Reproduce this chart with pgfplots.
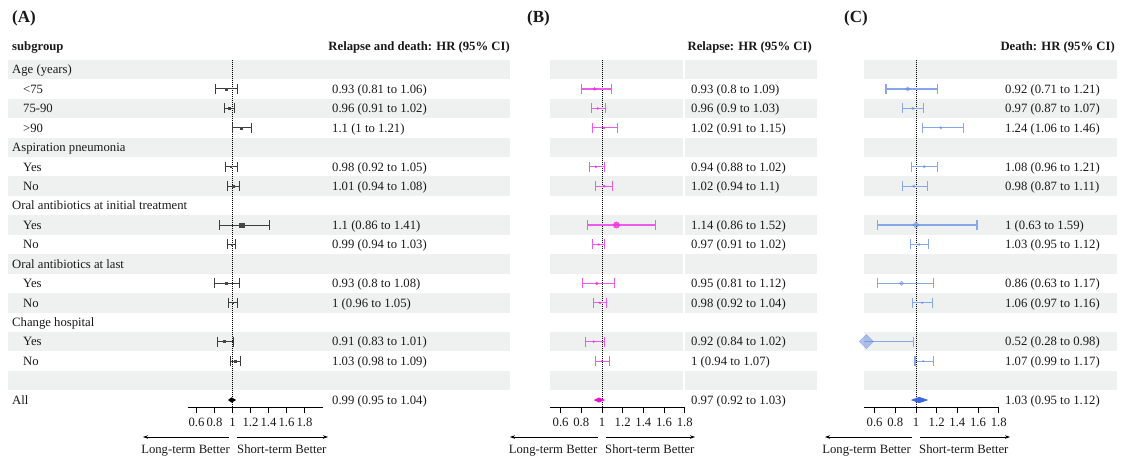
\documentclass[border=0pt]{standalone}
\usepackage{fontspec}
\setmainfont{Liberation Serif}
\usepackage{pgfplots}
\pgfplotsset{compat=1.18}
\usepackage{pgfplotstable}
\usetikzlibrary{arrows.meta}

\definecolor{stripe}{RGB}{239,241,241}
\definecolor{txt}{RGB}{25,25,25}
\definecolor{wA}{RGB}{60,60,60}
\definecolor{mA}{RGB}{70,70,70}
\definecolor{wB}{RGB}{238,90,238}
\definecolor{mB}{RGB}{240,50,220}
\definecolor{sB}{RGB}{232,20,205}
\definecolor{wC}{RGB}{135,168,232}
\definecolor{mC}{RGB}{100,138,222}
\definecolor{sC}{RGB}{60,100,220}

\newcommand{\tf}{\fontsize{12.7}{15}\selectfont}

% rows: v = 1 (All) ... 18 (Age header)
\pgfplotstableread{
v hr lo hi ms
17 0.93 0.81 1.06 1.1
16 0.96 0.91 1.02 0.8
15 1.10 1.00 1.21 0.9
13 0.98 0.92 1.05 0.8
12 1.01 0.94 1.08 0.9
10 1.10 0.86 1.41 2.2
9 0.99 0.94 1.03 0.7
7 0.93 0.80 1.08 1.2
6 1.00 0.96 1.05 0.6
4 0.91 0.83 1.01 1.0
3 1.03 0.98 1.09 0.8
}\dataA

\pgfplotstableread{
v hr lo hi ms
17 0.93 0.80 1.09 1.5
16 0.96 0.90 1.03 1.0
15 1.02 0.91 1.15 1.0
13 0.94 0.88 1.02 1.0
12 1.02 0.94 1.10 1.2
10 1.14 0.86 1.52 3.2
9 0.97 0.91 1.02 1.0
7 0.95 0.81 1.12 1.5
6 0.98 0.92 1.04 1.0
4 0.92 0.84 1.02 1.0
3 1.00 0.94 1.07 0.8
}\dataB

\pgfplotstableread{
v hr lo hi ms
17 0.92 0.71 1.21 1.6
16 0.97 0.87 1.07 1.0
15 1.24 1.06 1.46 1.0
13 1.08 0.96 1.21 1.0
12 0.98 0.87 1.11 1.0
10 1.00 0.63 1.59 2.4
9 1.03 0.95 1.12 0.8
7 0.86 0.63 1.17 1.6
6 1.06 0.97 1.16 0.7
4 0.52 0.28 0.98 5.0
3 1.07 0.99 1.17 0.7
}\dataC

\pgfplotsset{
  forest/.style={
    scale only axis, anchor=south west, height=347.5pt,
    xmin=0.5, ymin=0.6245, ymax=18.5,
    axis x line*=bottom, axis y line=none,
    xtick={0.6,0.8,1,1.2,1.4,1.6,1.8},
    xticklabels={0.6,0.8,1,1.2,1.4,1.6,1.8},
    ytick=\empty,
    tick align=outside, major tick length=6pt,
    tick style={black, line width=0.8pt},
    x axis line style={black, line width=0.9pt},
    xticklabel style={font=\tf, text=txt, inner sep=1pt, yshift=-4pt},
    cycle list={{black}},
  },
}

\begin{document}
\begin{tikzpicture}[
  lab/.style={font=\tf, text=txt, inner sep=0pt, anchor=base west, yshift=-4.3pt},
  labr/.style={font=\tf\bfseries, text=txt, inner sep=0pt, anchor=base east, yshift=-4.3pt},
  arr/.style={line width=0.7pt, -{Stealth[length=5pt,width=3.5pt]}},
]
\path[use as bounding box] (0pt,0pt) rectangle (1121pt,-461pt);

% stripes
\foreach \v in {2,4,...,18}{
  \fill[stripe] (8pt,{19.44*(\v-1)*1pt-400pt+9.72pt}) rectangle (510pt,{19.44*(\v-1)*1pt-400pt-9.72pt});
  \fill[stripe] (550pt,{19.44*(\v-1)*1pt-400pt+9.72pt}) rectangle (683pt,{19.44*(\v-1)*1pt-400pt-9.72pt});
  \fill[stripe] (685pt,{19.44*(\v-1)*1pt-400pt+9.72pt}) rectangle (817pt,{19.44*(\v-1)*1pt-400pt-9.72pt});
  \fill[stripe] (864pt,{19.44*(\v-1)*1pt-400pt+9.72pt}) rectangle (1117pt,{19.44*(\v-1)*1pt-400pt-9.72pt});
}

% panel letters and headers
\node[font=\fontsize{17}{20}\selectfont\bfseries, text=txt, inner sep=0pt, anchor=west] at (12pt,-18pt) {(A)};
\node[font=\fontsize{17}{20}\selectfont\bfseries, text=txt, inner sep=0pt, anchor=west] at (527pt,-18pt) {(B)};
\node[font=\fontsize{17}{20}\selectfont\bfseries, text=txt, inner sep=0pt, anchor=west] at (844pt,-18pt) {(C)};
\node[lab, font=\tf\bfseries] at (12pt,-46pt) {subgroup};
\node[labr] at (510pt,-46pt) {Relapse and death: HR (95\% CI)};
\node[labr] at (812pt,-46pt) {Relapse: HR (95\% CI)};
\node[labr] at (1115pt,-46pt) {Death: HR (95\% CI)};

% subgroup labels
\foreach \v/\x/\t in {18/12/Age (years), 17/23/<75, 16/23/75-90, 15/23/>90,
  14/12/Aspiration pneumonia, 13/23/Yes, 12/23/No,
  11/12/Oral antibiotics at initial treatment, 10/23/Yes, 9/23/No,
  8/12/Oral antibiotics at last, 7/23/Yes, 6/23/No,
  5/12/Change hospital, 4/23/Yes, 3/23/No, 1/12/All}{
  \node[lab] at (\x pt,{19.44*(\v-1)*1pt-400pt}) {\t};
}

% value texts
\foreach \v/\a/\b/\c in {
 17/0.93 (0.81 to 1.06)/0.93 (0.8 to 1.09)/0.92 (0.71 to 1.21),
 16/0.96 (0.91 to 1.02)/0.96 (0.9 to 1.03)/0.97 (0.87 to 1.07),
 15/1.1 (1 to 1.21)/1.02 (0.91 to 1.15)/1.24 (1.06 to 1.46),
 13/0.98 (0.92 to 1.05)/0.94 (0.88 to 1.02)/1.08 (0.96 to 1.21),
 12/1.01 (0.94 to 1.08)/1.02 (0.94 to 1.1)/0.98 (0.87 to 1.11),
 10/1.1 (0.86 to 1.41)/1.14 (0.86 to 1.52)/1 (0.63 to 1.59),
 9/0.99 (0.94 to 1.03)/0.97 (0.91 to 1.02)/1.03 (0.95 to 1.12),
 7/0.93 (0.8 to 1.08)/0.95 (0.81 to 1.12)/0.86 (0.63 to 1.17),
 6/1 (0.96 to 1.05)/0.98 (0.92 to 1.04)/1.06 (0.97 to 1.16),
 4/0.91 (0.83 to 1.01)/0.92 (0.84 to 1.02)/0.52 (0.28 to 0.98),
 3/1.03 (0.98 to 1.09)/1 (0.94 to 1.07)/1.07 (0.99 to 1.17),
 1/0.99 (0.95 to 1.04)/0.97 (0.92 to 1.03)/1.03 (0.95 to 1.12)}{
  \node[lab] at (332pt,{19.44*(\v-1)*1pt-400pt}) {\a};
  \node[lab] at (691pt,{19.44*(\v-1)*1pt-400pt}) {\b};
  \node[lab] at (1005pt,{19.44*(\v-1)*1pt-400pt}) {\c};
}

% ---------- Panel A ----------
\begin{axis}[forest, at={(187.5pt,-407.3pt)}, width=135pt, xmax=2.0]
\addplot[densely dotted, line width=1pt, black, mark=none] coordinates {(1,0.6245) (1,18.5)};
\addplot[color=wA, draw=wA, line width=1pt, mark=none, forget plot,
  quiver={u=\thisrow{hi}-\thisrow{lo}, v=0}]
  table[x=lo, y=v] {\dataA};
\addplot[wA, only marks, mark=|, mark size=5pt, mark options={line width=1pt}, restrict x to domain=0.5:2.0]
  table[x=lo, y=v] {\dataA};
\addplot[wA, only marks, mark=|, mark size=5pt, mark options={line width=1pt}, restrict x to domain=0.5:2.0]
  table[x=hi, y=v] {\dataA};
\addplot[scatter, only marks, mark=square*, point meta=explicit,
  visualization depends on={\thisrow{ms} \as \msize},
  scatter/@pre marker code/.code={\scope[mark size=\msize pt, draw=mA, fill=mA]},
  scatter/@post marker code/.code={\endscope}]
  table[x=hr, y=v, meta=ms] {\dataA};
\addplot[fill=black, draw=none, mark=none] coordinates {(0.95,1) (0.99,1.14) (1.04,1) (0.99,0.86)};
\end{axis}

% ---------- Panel B ----------
\begin{axis}[forest, at={(550.3pt,-407.3pt)}, width=134.4pt, xmax=1.8]
\addplot[densely dotted, line width=1pt, black, mark=none] coordinates {(1,0.6245) (1,18.5)};
\addplot[color=wB, draw=wB, line width=1.1pt, mark=none, forget plot,
  quiver={u=\thisrow{hi}-\thisrow{lo}, v=0}]
  table[x=lo, y=v] {\dataB};
\addplot[wB, only marks, mark=|, mark size=5pt, mark options={line width=1.1pt}, restrict x to domain=0.5:1.8]
  table[x=lo, y=v] {\dataB};
\addplot[wB, only marks, mark=|, mark size=5pt, mark options={line width=1.1pt}, restrict x to domain=0.5:1.8]
  table[x=hi, y=v] {\dataB};
\addplot[scatter, only marks, mark=*, point meta=explicit,
  visualization depends on={\thisrow{ms} \as \msize},
  scatter/@pre marker code/.code={\scope[mark size=\msize pt, draw=mB, fill=mB, fill opacity=0.8, draw opacity=0.8]},
  scatter/@post marker code/.code={\endscope}]
  table[x=hr, y=v, meta=ms] {\dataB};
\addplot[fill=sB, draw=none, mark=none] coordinates {(0.92,1) (0.97,1.13) (1.03,1) (0.97,0.87)};
\end{axis}

% ---------- Panel C ----------
\begin{axis}[forest, at={(864.3pt,-407.3pt)}, width=134.4pt, xmax=1.8]
\addplot[densely dotted, line width=1pt, black, mark=none] coordinates {(1,0.6245) (1,18.5)};
\addplot[color=wC, draw=wC, line width=1.1pt, mark=none, forget plot,
  quiver={u=\thisrow{hi}-\thisrow{lo}, v=0}]
  table[x=lo, y=v] {\dataC};
\addplot[wC, only marks, mark=|, mark size=5pt, mark options={line width=1.1pt}, restrict x to domain=0.5:1.8]
  table[x=lo, y=v] {\dataC};
\addplot[wC, only marks, mark=|, mark size=5pt, mark options={line width=1.1pt}, restrict x to domain=0.5:1.8]
  table[x=hi, y=v] {\dataC};
\addplot[scatter, only marks, mark=square*, point meta=explicit,
  visualization depends on={\thisrow{ms} \as \msize},
  scatter/@pre marker code/.code={\scope[mark size=\msize pt, draw=mC, fill=mC, fill opacity=0.5, draw opacity=0.5, rotate=45]},
  scatter/@post marker code/.code={\endscope}]
  table[x=hr, y=v, meta=ms] {\dataC};
\addplot[fill=sC, draw=none, mark=none] coordinates {(0.95,1) (1.03,1.16) (1.12,1) (1.03,0.84)};
\end{axis}

% arrows and direction labels
\draw[arr] (228.5pt,-437pt) -- (143pt,-437pt);
\draw[arr] (236.5pt,-437pt) -- (328pt,-437pt);
\node[lab, anchor=base east] at (230pt,-449pt) {Long-term Better};
\node[lab] at (237pt,-449pt) {Short-term Better};

\draw[arr] (598pt,-437pt) -- (510pt,-437pt);
\draw[arr] (606pt,-437pt) -- (695pt,-437pt);
\node[lab, anchor=base east] at (597.5pt,-449pt) {Long-term Better};
\node[lab] at (605pt,-449pt) {Short-term Better};

\draw[arr] (912pt,-437pt) -- (825pt,-437pt);
\draw[arr] (920pt,-437pt) -- (1010pt,-437pt);
\node[lab, anchor=base east] at (911pt,-449pt) {Long-term Better};
\node[lab] at (919pt,-449pt) {Short-term Better};
\end{tikzpicture}
\end{document}
